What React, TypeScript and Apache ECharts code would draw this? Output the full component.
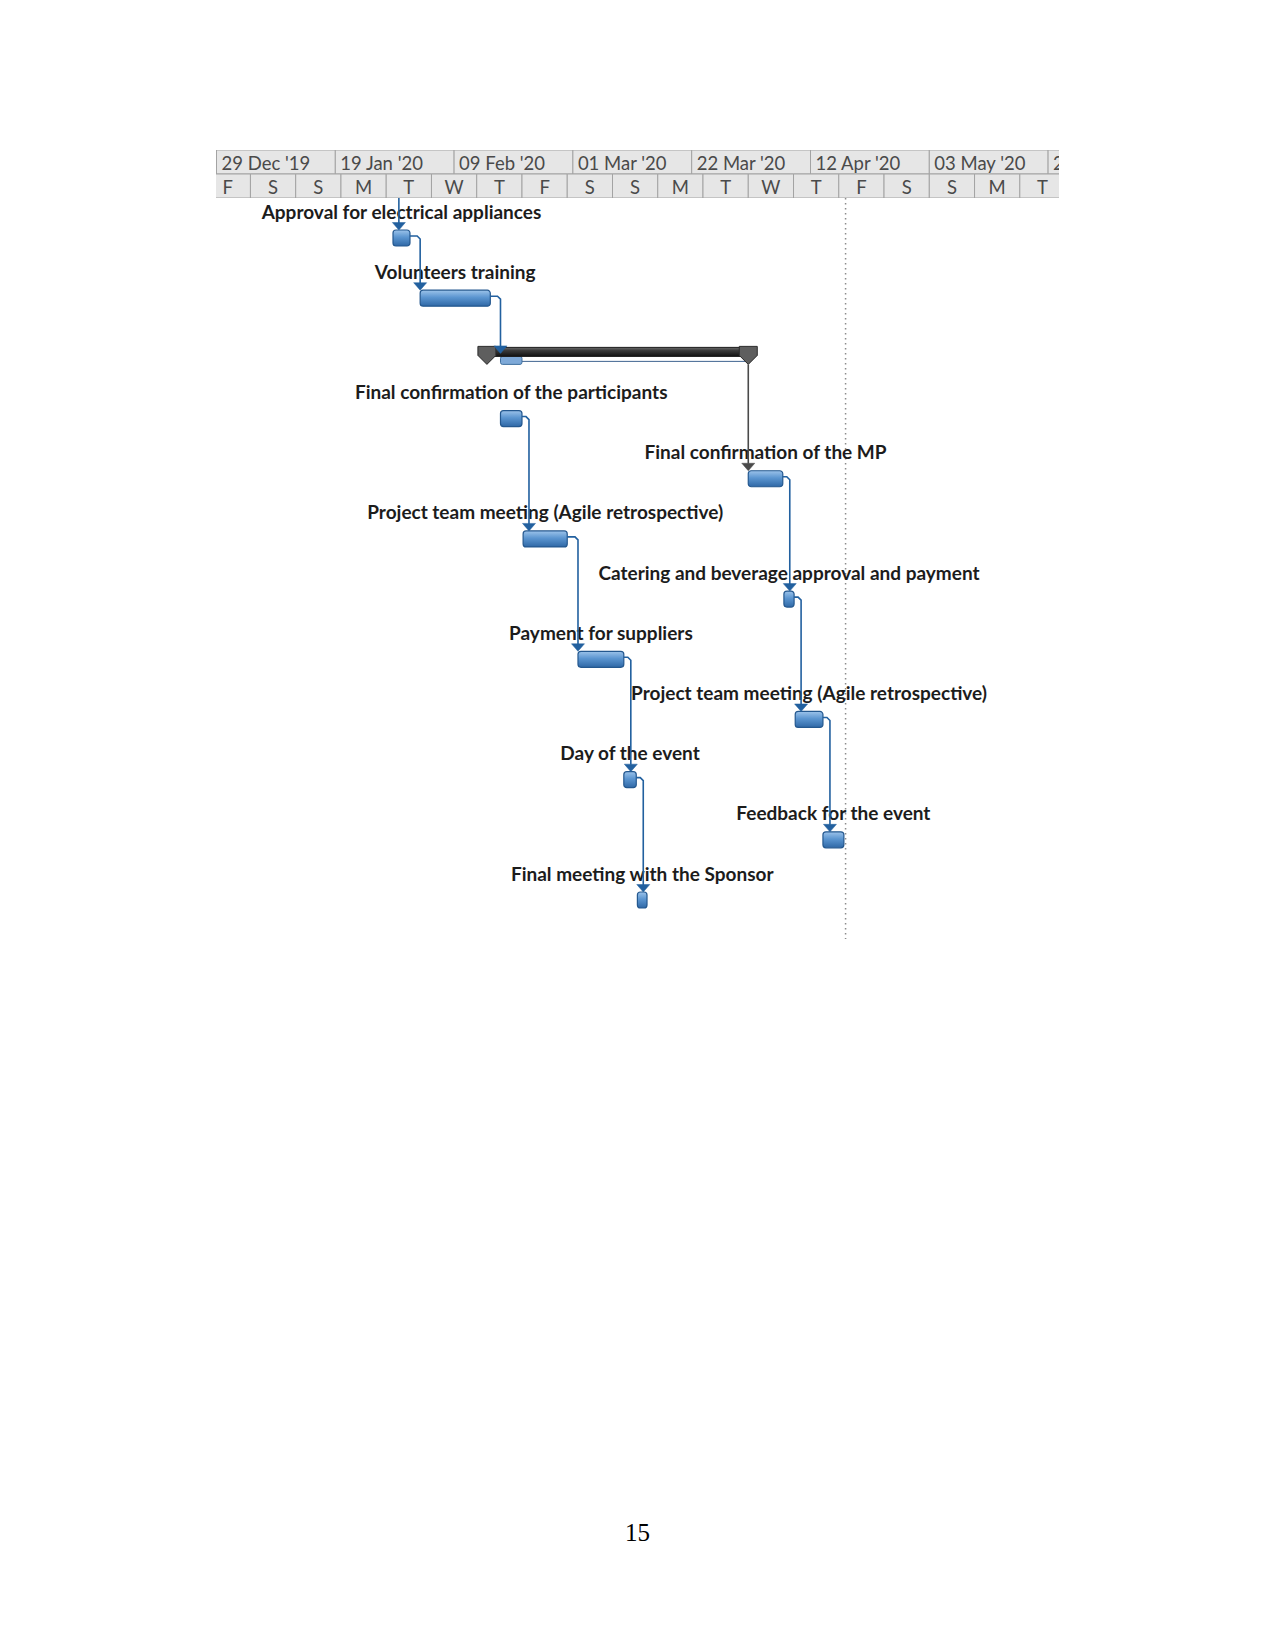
import React, { useEffect, useRef } from "react";
import * as echarts from "echarts";

// ---- Data (days counted from Sun 29 Dec 2019) ----
const taskNames = [
  "Approval for electrical appliances",
  "Volunteers training",
  "",
  "Final confirmation of the participants",
  "Final confirmation of the MP",
  "Project team meeting (Agile retrospective)",
  "Catering and beverage approval and payment",
  "Payment for suppliers",
  "Project team meeting (Agile retrospective)",
  "Day of the event",
  "Feedback for the event",
  "Final meeting with the Sponsor",
];
const taskStart = [31.2, 36, 47.8, 50.2, 94, 54.2, 100.3, 63.9, 102.3, 72, 107.2, 74.4];
const taskEnd = [34.2, 48.4, 94, 54, 100.1, 62, 102.1, 72, 107.2, 74.2, 110.9, 76.1];
const taskKind = ["task", "task", "summary", "task", "task", "task", "task", "task", "task", "task", "task", "task"];
const rollupRow = 3; // child rolled up onto the summary bar

// links (finish-to-start); -1 = predecessor above the visible area
const linkFrom = [-1, 0, 1, 3, 5, 7, 9, 2, 4, 6, 8];
const linkTo = [0, 1, 2, 5, 7, 9, 11, 4, 6, 8, 10];
const externalPredEnd = 31;

const statusDay = 111.2;

// timescale
const topTierStart = [0, 21, 42, 63, 84, 105, 126, 147];
const topTierLabels = ["29 Dec '19", "19 Jan '20", "09 Feb '20", "01 Mar '20", "22 Mar '20", "12 Apr '20", "03 May '20", "24 May '20"];
const topTierDays = 21;
const bottomTierStart = [-2, 6, 14, 22, 30, 38, 46, 54, 62, 70, 78, 86, 94, 102, 110, 118, 126, 134, 142];
const bottomTierLabels = ["F", "S", "S", "M", "T", "W", "T", "F", "S", "S", "M", "T", "W", "T", "F", "S", "S", "M", "T"];
const bottomTierDays = 8;

const LINK_BLUE = "#22609f";
const LABEL_FONT = "Lato";

export default function App() {
  const ref = useRef<HTMLDivElement>(null);

  useEffect(() => {
    if (!ref.current) return;
    const chart = echarts.init(ref.current, null, { renderer: "svg" });

    const headerData: number[][] = [];
    const headerLabels: string[] = [];
    topTierStart.forEach((s, i) => {
      headerData.push([s, 0, s + topTierDays]);
      headerLabels.push(topTierLabels[i]);
    });
    bottomTierStart.forEach((s, i) => {
      headerData.push([s, 1, s + bottomTierDays]);
      headerLabels.push(bottomTierLabels[i]);
    });

    const barGradient = () =>
      new echarts.graphic.LinearGradient(0, 0, 0, 1, [
        { offset: 0, color: "#9cc3ea" },
        { offset: 0.45, color: "#5b95d0" },
        { offset: 1, color: "#2f68a6" },
      ]);

    const option: any = {
      animation: false,
      backgroundColor: "#ffffff",
      grid: [
        { left: 216.5, top: 198, width: 841.5, height: 741, show: false },
        { left: 216.5, top: 150, width: 841.5, height: 48, show: false },
      ],
      xAxis: [
        { type: "value", gridIndex: 0, min: 0, max: 148.75, show: false },
        { type: "value", gridIndex: 1, min: 0, max: 148.75, show: false },
      ],
      yAxis: [
        { type: "value", gridIndex: 0, min: -0.665, max: 11.648, inverse: true, show: false },
        { type: "value", gridIndex: 1, min: 0, max: 2, inverse: true, show: false },
      ],
      graphic: [
        {
          type: "text",
          x: 637.5,
          y: 1532,
          style: {
            text: "15",
            align: "center",
            verticalAlign: "middle",
            textAlign: "center",
            textVerticalAlign: "middle",
            fontFamily: "Liberation Serif",
            fontSize: 25,
            fill: "#000000",
          },
        },
      ],
      series: [
        // timescale header
        {
          type: "custom",
          xAxisIndex: 1,
          yAxisIndex: 1,
          clip: true,
          silent: true,
          data: headerData,
          encode: { x: [0, 2], y: 1 },
          renderItem: (params: any, api: any) => {
            const s = api.value(0);
            const tier = api.value(1);
            const e = api.value(2);
            const p0 = api.coord([s, tier]);
            const p1 = api.coord([e, tier + 1]);
            const label = headerLabels[params.dataIndex];
            const isTop = tier === 0;
            return {
              type: "group",
              children: [
                {
                  type: "rect",
                  shape: { x: p0[0], y: p0[1], width: p1[0] - p0[0], height: p1[1] - p0[1] },
                  style: { fill: "#e6e6e6", stroke: "#a3a3a3", lineWidth: 1 },
                },
                {
                  type: "text",
                  style: {
                    text: label,
                    x: isTop ? p0[0] + 5 : (p0[0] + p1[0]) / 2,
                    y: (p0[1] + p1[1]) / 2 + 1,
                    align: isTop ? "left" : "center",
                    verticalAlign: "middle",
                    textAlign: isTop ? "left" : "center",
                    textVerticalAlign: "middle",
                    fontFamily: LABEL_FONT,
                    fontSize: 18.5,
                    fill: "#4a4a4a",
                  },
                },
              ],
            };
          },
        },
        // status date line
        {
          type: "custom",
          xAxisIndex: 0,
          yAxisIndex: 0,
          silent: true,
          data: [[statusDay, 0]],
          renderItem: (params: any, api: any) => {
            const x = api.coord([api.value(0), 0])[0];
            const cs = params.coordSys;
            return {
              type: "line",
              shape: { x1: x, y1: cs.y, x2: x, y2: cs.y + cs.height },
              style: { stroke: "#8c8c8c", lineWidth: 1.5, lineDash: [1.5, 3.5] },
            };
          },
        },
        // tasks
        {
          type: "custom",
          xAxisIndex: 0,
          yAxisIndex: 0,
          silent: true,
          data: taskNames.map((_, i) => [taskStart[i], i, taskEnd[i]]),
          encode: { x: [0, 2], y: 1 },
          renderItem: (params: any, api: any) => {
            const i = params.dataIndex;
            const p0 = api.coord([api.value(0), api.value(1)]);
            const p1 = api.coord([api.value(2), api.value(1)]);
            const cy = p0[1];
            if (taskKind[i] === "summary") {
              const r0 = api.coord([taskStart[rollupRow], 0])[0];
              const r1 = api.coord([taskEnd[rollupRow], 0])[0];
              const top = cy - 11;
              const cap = (x: number) => ({
                type: "polygon",
                shape: {
                  points: [
                    [x - 9, top - 1],
                    [x + 9, top - 1],
                    [x + 9, top + 8],
                    [x, top + 17],
                    [x - 9, top + 8],
                  ],
                },
                style: { fill: "#5e5e5e", stroke: "#2b2b2b", lineWidth: 1 },
              });
              return {
                type: "group",
                children: [
                  {
                    type: "line",
                    shape: { x1: r1, y1: cy + 3, x2: p1[0], y2: cy + 3 },
                    style: { stroke: "#3f6490", lineWidth: 1 },
                  },
                  {
                    type: "rect",
                    shape: { x: r0, y: cy - 2, width: r1 - r0, height: 8, r: 2 },
                    style: { fill: "#7ea9d8", stroke: "#40709f", lineWidth: 1 },
                  },
                  {
                    type: "rect",
                    shape: { x: p0[0], y: top, width: p1[0] - p0[0], height: 9 },
                    style: {
                      fill: new echarts.graphic.LinearGradient(0, 0, 0, 1, [
                        { offset: 0, color: "#6b6b6b" },
                        { offset: 0.35, color: "#3a3a3a" },
                        { offset: 1, color: "#111111" },
                      ]),
                      stroke: "#1a1a1a",
                      lineWidth: 1,
                    },
                  },
                  cap(p0[0]),
                  cap(p1[0]),
                ],
              };
            }
            return {
              type: "group",
              children: [
                {
                  type: "text",
                  style: {
                    text: taskNames[i],
                    x: (p0[0] + p1[0]) / 2,
                    y: cy - 27,
                    align: "center",
                    verticalAlign: "middle",
                    textAlign: "center",
                    textVerticalAlign: "middle",
                    fontFamily: LABEL_FONT,
                    fontWeight: "bold",
                    fontSize: 19,
                    fill: "#1c1c1c",
                  },
                },
                {
                  type: "rect",
                  shape: { x: p0[0], y: cy - 8, width: p1[0] - p0[0], height: 16, r: 3 },
                  style: { fill: barGradient(), stroke: "#24588f", lineWidth: 1.2 },
                },
              ],
            };
          },
        },
        // dependency links
        {
          type: "custom",
          xAxisIndex: 0,
          yAxisIndex: 0,
          silent: true,
          data: linkFrom.map((f, i) => [f, linkTo[i]]),
          encode: { x: -1, y: -1 },
          renderItem: (params: any, api: any) => {
            const from = api.value(0);
            const to = api.value(1);
            const toCenter = api.coord([0, to])[1];
            const toSummary = taskKind[to] === "summary";
            const tipY = toSummary ? toCenter - 5 : toCenter - 8;
            const succStart = toSummary ? taskStart[rollupRow] : taskStart[to];
            const succX = api.coord([succStart, 0])[0];
            let pts: number[][];
            let color = LINK_BLUE;
            let x: number;
            if (from < 0) {
              x = api.coord([externalPredEnd, 0])[0] + 7;
              pts = [
                [x, params.coordSys.y],
                [x, tipY - 7],
              ];
            } else if (taskKind[from] === "summary") {
              x = api.coord([taskEnd[from], 0])[0];
              const fc = api.coord([0, from])[1];
              pts = [
                [x, fc + 6],
                [x, tipY - 7],
              ];
              color = "#4a4a4a";
            } else {
              const endX = api.coord([taskEnd[from], 0])[0];
              const fc = api.coord([0, from])[1];
              x = Math.max(endX + 7, succX);
              pts = [
                [endX, fc - 2],
                [x - 3, fc - 2],
                [x, fc + 1],
                [x, tipY - 7],
              ];
            }
            return {
              type: "group",
              children: [
                {
                  type: "polyline",
                  shape: { points: pts },
                  style: { stroke: color, lineWidth: 1.6, fill: "none" },
                },
                {
                  type: "polygon",
                  shape: {
                    points: [
                      [x - 6.5, tipY - 7.5],
                      [x + 6.5, tipY - 7.5],
                      [x, tipY],
                    ],
                  },
                  style: { fill: color, stroke: color, lineWidth: 0.5 },
                },
              ],
            };
          },
        },
      ],
    };

    chart.setOption(option);
    return () => chart.dispose();
  }, []);

  return (
    <div
      ref={ref}
      style={{ position: "absolute", left: 0, top: 0, width: 1275, height: 1650, background: "#ffffff" }}
    />
  );
}
